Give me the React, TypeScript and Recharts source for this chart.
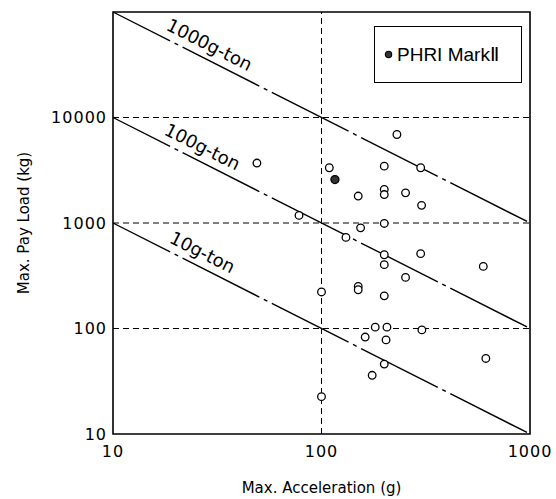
import {
  ScatterChart,
  Scatter,
  XAxis,
  YAxis,
  ReferenceLine,
  ReferenceArea,
  ReferenceDot,
  Legend,
} from 'recharts';

// log-log: acceleration (g) vs pay load (kg)
const accel = [
  230, 49, 109, 200, 299, 150, 200, 200, 253, 302, 78, 154, 200, 131, 200, 200,
  299, 597, 253, 100, 150, 150, 200, 181, 206, 162, 204, 303, 614, 200, 175, 100,
];
const payload = [
  6900, 3700, 3340, 3460, 3340, 1800, 2080, 1860, 1930, 1470, 1180, 900, 990, 730, 500, 403,
  512, 388, 305, 222, 250, 233, 204, 103, 103, 83, 78, 97, 52, 46, 36, 22.6,
];
const markAccel = [116];
const markPayload = [2580];

const xTicks = [10, 100, 1000];
const yTicks = [10, 100, 1000, 10000];

// g-ton lines: payload(kg) * accel(g) = const
const gTonLines = [
  { name: '1000g-ton', k: 1000000, labelAt: 27 },
  { name: '100g-ton', k: 100000, labelAt: 25 },
  { name: '10g-ton', k: 10000, labelAt: 25 },
];

const others = accel.map((x, i) => ({ x, y: payload[i] }));
const markII = markAccel.map((x, i) => ({ x, y: markPayload[i] }));

const black = '#000';
const font = '"DejaVu Sans", sans-serif';

const OpenDot = (p: any) => (
  <circle cx={p.cx} cy={p.cy} r={3.8} fill="#fff" stroke={black} strokeWidth={1.3} />
);
const FilledDot = (p: any) => (
  <circle cx={p.cx} cy={p.cy} r={4} fill="#333" stroke={black} strokeWidth={1.3} />
);

const lineTag = (text: string) => (props: any) => {
  const { x, y } = props.viewBox;
  return (
    <text
      x={x}
      y={y - 8}
      textAnchor="middle"
      fontSize={18}
      fill={black}
      transform={`rotate(26.8 ${x} ${y})`}
    >
      {text}
    </text>
  );
};

const LegendBox = () => (
  <div
    style={{
      boxSizing: 'border-box',
      width: 148,
      height: 57,
      border: '1.5px solid #000',
      display: 'flex',
      alignItems: 'center',
      paddingLeft: 9,
      fontFamily: '"Liberation Sans", sans-serif',
      fontSize: 19,
      color: black,
      whiteSpace: 'nowrap',
    }}
  >
    <svg width={9} height={9} style={{ marginRight: 4 }}>
      <circle cx={4.5} cy={4.5} r={3.2} fill="#333" stroke={black} strokeWidth={1.1} />
    </svg>
    PHRI MarkⅡ
  </div>
);

export default function App() {
  return (
    <div style={{ position: 'absolute', left: 0, top: 0, fontFamily: font, background: '#fff' }}>
      <ScatterChart
        width={556}
        height={499}
        margin={{ top: 12, right: 26, left: 0, bottom: 0 }}
      >
        <XAxis
          type="number"
          dataKey="x"
          scale="log"
          domain={[10, 1000]}
          ticks={xTicks}
          allowDataOverflow
          axisLine={false}
          tickLine={false}
          tickSize={0}
          tickMargin={12}
          height={65}
          tick={{ fill: black, fontSize: 16, letterSpacing: 1 }}
          label={{
            value: 'Max. Acceleration (g)',
            position: 'insideBottom',
            offset: 6,
            fill: black,
            fontSize: 15,
          }}
        />
        <YAxis
          type="number"
          dataKey="y"
          scale="log"
          domain={[10, 100000]}
          ticks={yTicks}
          allowDataOverflow
          axisLine={false}
          tickLine={false}
          tickSize={0}
          tickMargin={6}
          width={113}
          tick={{ fill: black, fontSize: 16, letterSpacing: 1 }}
          label={{
            value: 'Max. Pay Load (kg)',
            angle: -90,
            position: 'insideLeft',
            offset: 24,
            fill: black,
            fontSize: 15,
            style: { textAnchor: 'middle' },
          }}
        />
        {yTicks.slice(1).map((v) => (
          <ReferenceLine key={`gy-${v}`} y={v} stroke={black} strokeDasharray="6 4" />
        ))}
        <ReferenceLine x={100} stroke={black} strokeDasharray="6 4" />
        {gTonLines.map((l) => (
          <ReferenceLine
            key={l.name}
            segment={[
              { x: 10, y: l.k / 10 },
              { x: 1000, y: l.k / 1000 },
            ]}
            stroke={black}
            strokeWidth={1.4}
            strokeDasharray="86 5 4 5"
            strokeDashoffset={22}
          />
        ))}
        {gTonLines.map((l) => (
          <ReferenceDot
            key={`tag-${l.name}`}
            x={l.labelAt}
            y={l.k / l.labelAt}
            r={0}
            fill="none"
            stroke="none"
            label={{ content: lineTag(l.name) }}
          />
        ))}
        <ReferenceArea
          x1={10}
          x2={1000}
          y1={10}
          y2={100000}
          fill="none"
          fillOpacity={0}
          stroke={black}
          strokeWidth={1.6}
        />
        <Scatter data={others} shape={OpenDot} isAnimationActive={false} />
        <Scatter data={markII} shape={FilledDot} isAnimationActive={false} />
        <Legend
          layout="horizontal"
          verticalAlign="middle"
          align="center"
          wrapperStyle={{ left: 374, top: 26, width: 148 }}
          content={LegendBox}
        />
      </ScatterChart>
    </div>
  );
}
